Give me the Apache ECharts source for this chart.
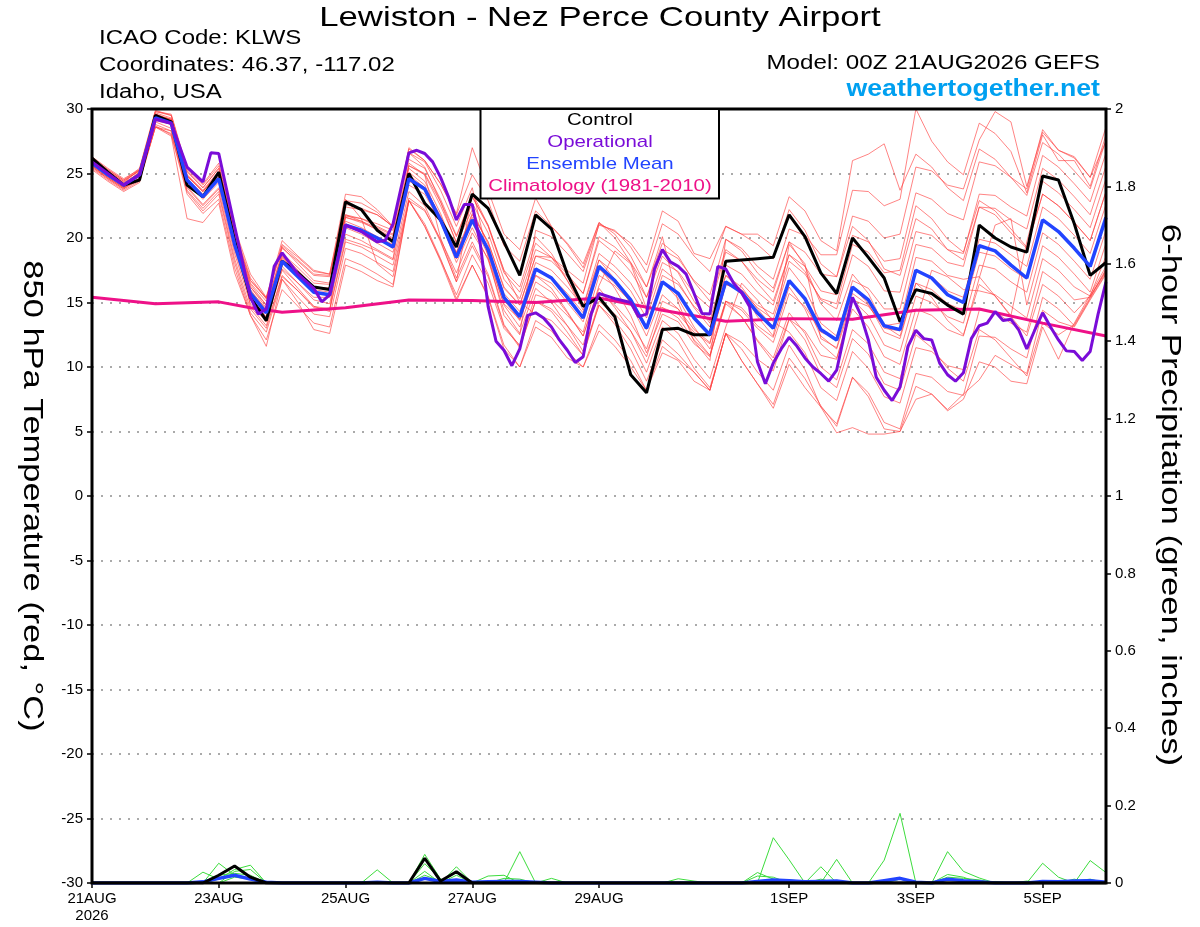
<!DOCTYPE html>
<html>
<head>
<meta charset="utf-8">
<script src="https://cdn.jsdelivr.net/npm/echarts@6.0.0/dist/echarts.min.js"></script>
<style>
html,body{margin:0;padding:0;background:#fff;}
#chart{width:1200px;height:927px;}
</style>
</head>
<body>
<div id="chart"></div>
<script>
// ---------------- DATA ----------------
const STEP_HOURS = 6; // forecast step of the 6-hourly series
const tickHours = [0, 48, 96, 144, 192, 264, 312, 360];
const tickLabels = ['21AUG\n2026', '23AUG', '25AUG', '27AUG', '29AUG', '1SEP', '3SEP', '5SEP'];

const controlTemp = [
  26.2,25.1,24.1,24.5,29.5,29.0,24.1,23.2,25.1,19.8,15.4,13.6,18.2,17.3,16.2,16.0,
  22.8,22.2,20.6,19.7,25.0,22.7,21.4,19.3,23.4,22.3,19.7,17.1,21.8,20.7,17.2,14.7,
  15.4,13.9,9.4,8.0,12.9,13.0,12.5,12.5,18.2,18.3,18.4,18.5,21.8,20.1,17.3,15.7,
  20.0,18.5,16.9,13.5,16.0,15.7,14.8,14.1,21.0,20.0,19.3,18.9,24.8,24.5,21.1,17.1,18.1];

const meanTemp = [
  25.8,24.9,24.1,24.9,29.3,28.9,24.5,23.2,24.6,19.5,15.7,14.2,18.2,17.0,15.8,15.6,
  21.0,20.6,20.0,19.3,24.6,23.8,21.4,18.5,21.4,19.1,15.4,13.9,17.6,16.9,15.4,13.8,
  17.8,16.7,15.2,13.0,16.6,15.7,13.8,12.5,16.6,15.8,14.2,13.0,16.7,15.3,12.9,12.1,
  16.2,15.2,13.2,12.9,17.5,16.9,15.6,15.0,19.4,19.0,17.9,16.9,21.4,20.5,19.2,17.8,21.6];

const operHours = [0,6,12,18,24,30,36,42,45,48,54,60,63,66,69,72,78,84,87,90,96,102,108,111,114,120,123,126,129,132,135,138,141,144,147,150,153,156,159,162,165,168,171,174,177,180,183,186,189,192,198,204,207,210,213,216,219,222,225,228,231,234,237,240,243,246,249,252,255,258,261,264,267,270,273,276,279,282,285,288,291,294,297,300,303,306,309,312,315,318,321,324,327,330,333,336,339,342,345,348,351,354,357,360,363,366,369,372,375,378,381,384];
const operTemp = [25.9,25.0,24.1,24.9,29.2,28.9,25.5,24.35,26.6,26.55,20.9,15.4,14.1,14.5,17.8,18.85,17.2,16.1,15.05,15.6,21.0,20.5,19.7,19.8,21.1,26.6,26.8,26.55,25.9,24.7,23.2,21.4,22.6,22.6,19.6,14.7,12.0,11.3,10.1,11.4,14.0,14.2,13.8,13.1,12.1,11.3,10.35,10.8,14.1,15.7,15.3,15.0,13.9,14.1,17.6,19.1,18.15,17.8,17.2,15.7,14.15,14.1,17.8,17.6,16.5,15.75,14.7,10.4,8.7,10.3,11.4,12.3,11.6,10.7,10.0,9.5,8.9,9.75,12.6,15.4,14.1,12.1,9.2,8.2,7.4,8.45,11.6,12.85,12.2,12.1,10.3,9.4,8.9,9.55,12.2,13.2,13.4,14.3,13.6,13.7,12.85,11.4,12.85,14.2,13.1,12.1,11.25,11.2,10.5,11.2,14.1,16.6];

const climHours = [0,24,48,60,72,96,120,144,168,192,216,240,264,288,312,336,360,384];
const climTemp  = [15.4,14.9,15.05,14.6,14.25,14.6,15.2,15.15,15.0,15.35,14.4,13.55,13.75,13.7,14.4,14.5,13.4,12.4];

const member01 = [26.1,25.2,24.4,25.3,29.8,29.5,25.2,23.9,25.4,20.4,16.7,15.4,19.5,18.5,17.4,17.2, 22.9,22.7,22.0,20.8,27.0,26.0,24.2,21.8,24.9,22.9,19.4,18.2,22.1,20.9,19.5,17.7, 21.2,20.3,18.6,16.2,19.6,18.6,16.6,15.1,19.1,18.2,16.5,15.1,18.7,17.8,15.9,15.6, 20.2,19.7,18.2,18.4,23.5,23.0,21.9,21.4,25.9,25.6,24.7,23.8,28.4,26.8,26.2,24.7,28.6];
const member02 = [25.6,24.7,23.9,24.5,28.7,28.0,23.4,21.9,23.0,17.7,14.0,12.1,16.0,14.7,13.4,13.1, 18.4,17.9,17.2,16.4,22.9,20.9,18.2,15.1,17.9,15.5,11.7,10.0,13.6,12.8,11.2,10.0, 13.3,12.1,10.5,8.2,11.6,10.6,9.6,8.2,12.6,10.5,8.7,7.1,10.7,9.1,7.0,5.4, 9.2,8.0,5.7,5.2,9.5,9.2,8.1,7.8,12.4,12.3,11.4,10.7,15.4,14.5,13.2,15.3,17.3];
const member03 = [25.9,25.0,24.2,25.1,29.5,29.2,24.8,23.6,25.0,20.0,16.2,14.8,18.8,17.7,16.5,16.4, 21.8,21.5,20.9,20.3,25.6,24.9,22.5,19.7,22.7,20.4,16.8,15.3,19.1,18.5,17.2,15.7, 19.8,18.8,17.4,15.4,19.1,18.4,16.7,15.6,19.9,19.2,17.8,16.8,20.7,20.2,18.7,18.7, 23.7,23.6,22.5,23.0,30.0,27.5,25.9,24.9,28.9,28.1,26.7,23.5,28.0,26.0,26.0,24.0,28.0];
const member04 = [25.5,24.6,23.8,24.5,28.8,28.3,23.9,22.5,23.8,21.0,14.7,13.2,17.1,15.9,14.6,14.4, 19.7,19.3,18.6,17.9,23.1,22.2,19.7,16.6,19.4,17.0,13.2,11.5,15.1,14.3,12.7,10.9, 14.8,13.6,12.0,9.6,13.1,12.0,9.9,8.4,12.6,11.4,9.6,8.2,11.7,9.8,6.9,5.6, 9.2,7.7,5.2,5.0,8.5,7.9,6.6,7.5,10.4,10.0,8.9,8.7,13.1,10.6,13.4,15.6,17.8];
const member05 = [26.2,25.3,24.5,25.4,29.9,29.5,25.3,24.1,25.6,20.6,16.9,15.3,19.3,18.0,16.7,16.5, 21.8,21.3,20.6,19.9,25.1,24.1,21.5,18.4,21.2,18.7,14.8,13.1,16.6,15.8,14.2,12.4, 16.3,19.0,18.0,14.5,14.6,13.8,12.1,10.9,15.1,14.4,13.0,11.9,15.7,14.7,12.7,12.2, 16.7,16.1,14.5,14.5,19.5,19.2,18.1,17.8,22.4,22.3,21.4,20.7,25.4,24.5,23.2,21.8,25.6];
const member06 = [25.7,24.8,24.0,24.9,29.3,28.9,24.6,23.4,24.8,19.8,16.0,14.4,18.3,17.1,15.8,15.5, 20.8,20.3,19.6,18.9,24.1,23.4,21.2,18.4,21.4,19.2,15.7,14.3,18.1,17.5,16.2,14.7, 18.8,17.8,16.5,14.4,18.1,17.4,15.7,14.6,18.9,18.2,16.8,15.8,19.7,18.9,17.2,17.0, 21.7,21.3,20.0,20.3,25.5,25.2,24.1,23.8,27.6,29.8,29.0,24.0,28.2,26.8,26.3,24.7,27.5];
const member07 = [26.0,25.1,24.3,25.0,29.3,28.8,24.4,23.0,24.3,19.1,15.2,13.9,18.1,17.1,16.1,16.1, 21.7,21.5,21.1,20.6,26.1,25.4,23.0,20.2,23.2,20.9,17.3,15.8,19.6,18.5,16.7,14.7, 18.3,16.8,14.9,12.4,15.6,14.5,12.4,10.9,14.9,13.9,12.1,10.7,14.2,12.6,10.0,9.0, 12.9,11.8,9.6,9.1,13.5,17.5,17.0,16.0,15.9,15.6,14.7,13.8,18.4,17.5,16.2,15.5,18.6];
const member08 = [25.4,24.5,23.7,24.4,28.6,28.1,23.6,22.1,23.4,18.1,14.2,12.7,16.8,15.4,14.1,13.9, 19.2,18.8,18.1,17.4,22.9,22.1,19.9,17.3,20.4,18.4,14.9,13.7,17.6,17.0,15.7,14.2, 18.3,17.3,15.9,13.8,17.6,16.6,14.6,13.1,17.1,16.2,14.5,13.1,16.7,15.1,12.4,11.4, 15.2,14.0,11.7,11.2,15.5,15.0,13.9,13.4,17.9,17.6,16.6,15.8,20.4,19.5,18.2,16.8,20.6];
const member09 = [25.8,24.9,24.1,25.0,29.5,29.2,24.9,23.7,25.2,20.2,16.5,15.1,19.2,18.2,17.1,17.0, 22.4,22.2,21.8,20.9,26.6,25.9,23.7,20.9,23.9,18.5,14.0,12.5,20.6,20.1,18.8,17.4, 21.0,20.6,19.3,17.3,21.1,20.3,18.6,17.4,20.9,20.3,19.5,18.4,22.2,20.6,18.0,17.0, 20.9,19.8,17.6,17.1,21.5,20.7,19.1,18.3,22.4,21.8,20.4,19.2,23.4,22.5,21.2,19.8,23.6];
const member10 = [26.3,25.4,24.6,25.3,29.6,29.1,24.6,23.2,24.5,19.3,15.4,13.8,17.8,16.5,15.2,14.9, 20.3,19.8,19.1,18.4,25.8,24.9,20.0,16.9,19.7,17.2,13.3,11.6,15.1,14.5,13.2,11.7, 15.8,14.8,13.4,11.4,15.1,14.5,12.9,11.9,16.4,15.9,14.6,13.7,17.7,16.1,13.4,12.4, 16.2,14.9,12.7,12.2,16.5,15.4,13.6,12.5,16.4,15.5,13.9,12.4,16.4,15.5,14.2,15.5,17.4];
const member11 = [25.5,24.6,23.8,24.7,29.1,28.8,24.5,23.2,24.7,19.6,15.9,14.5,18.5,17.4,16.2,16.1, 21.6,21.2,20.7,20.0,25.4,24.4,21.9,18.8,21.6,19.1,15.2,13.6,17.1,16.1,14.3,12.4, 16.1,14.6,12.8,10.3,13.6,12.6,10.6,9.1,13.1,16.5,15.2,13.5,12.7,11.1,8.4,7.4, 11.2,9.9,7.7,7.2,11.5,11.2,10.1,9.8,14.4,14.3,13.4,12.7,17.4,16.5,15.2,15.4,17.6];
const member12 = [26.0,25.1,24.3,25.3,29.8,29.6,25.4,24.2,25.8,20.8,17.2,15.4,19.8,18.6,17.5,17.2, 23.4,23.2,22.2,20.9,26.9,26.0,24.2,21.9,27.0,23.7,20.3,19.1,23.1,20.9,19.6,18.0, 21.2,20.0,18.1,15.4,18.6,17.3,15.1,13.4,17.1,15.9,13.9,12.4,19.5,18.0,12.2,11.5, 15.7,14.8,13.0,12.8,17.5,17.0,15.9,15.4,19.9,19.6,18.7,17.8,22.4,21.5,20.2,18.8,22.6];
const member13 = [25.7,24.8,24.0,24.5,28.6,27.9,21.5,21.2,22.7,17.3,14.0,11.6,16.8,15.0,12.9,12.6, 17.9,17.4,16.7,16.2,22.9,20.9,18.3,15.6,18.7,16.5,13.0,11.7,15.6,15.2,14.0,12.7, 17.1,16.3,15.1,13.2,17.1,16.4,14.7,13.6,17.9,17.2,15.8,14.8,18.7,17.4,15.2,14.5, 18.7,17.8,15.9,15.8,20.5,20.2,19.1,18.8,23.4,23.3,22.4,21.7,26.4,25.5,24.2,22.8,26.6];
const member14 = [26.1,25.2,24.4,25.2,29.7,29.3,24.9,23.6,25.1,20.0,16.2,14.6,18.6,17.3,16.0,15.8, 21.1,20.6,20.0,19.2,24.4,23.8,21.5,18.8,21.8,19.7,16.1,14.8,18.6,18.5,17.5,16.5, 21.1,20.5,19.6,17.9,22.1,21.3,18.8,18.4,20.9,20.3,20.3,19.4,23.2,22.1,19.8,19.0, 26.0,26.5,27.3,23.7,26.5,25.5,23.9,22.9,26.9,26.1,24.7,23.3,27.4,26.5,25.2,23.8,27.6];
const member15 = [25.6,24.7,23.9,24.6,29.0,28.5,24.0,22.6,23.9,18.8,14.9,13.5,17.6,16.5,15.4,15.4, 20.9,20.6,20.1,19.5,24.9,23.9,21.3,18.1,20.8,18.3,14.4,12.6,16.1,15.0,13.2,11.2, 14.8,13.3,11.4,8.9,12.1,11.0,9.6,8.2,12.6,10.5,8.7,6.8,10.2,8.4,6.9,4.9, 5.3,4.8,4.8,5.0,7.5,7.9,6.7,7.9,9.0,10.9,10.2,9.5,14.4,13.5,13.1,15.2,17.2];
const member16 = [25.9,25.0,24.2,25.1,29.6,29.2,25.1,23.9,25.4,20.4,16.7,15.3,19.4,18.3,17.2,17.1, 22.6,22.3,21.8,20.9,26.6,25.5,22.8,19.6,22.2,19.5,15.5,13.7,17.1,16.5,15.0,13.5, 17.6,16.5,15.0,12.9,16.6,15.3,13.1,11.4,15.1,13.9,12.0,10.4,13.7,12.8,10.9,10.6, 15.2,14.7,13.2,13.4,18.5,18.2,17.1,16.8,17.0,15.5,14.0,19.7,24.4,23.5,22.2,20.8,24.6];
const member17 = [25.3,24.4,23.6,24.3,28.6,28.3,23.7,22.3,23.6,18.4,14.5,13.0,17.0,15.9,14.7,14.5, 19.9,19.5,19.0,18.3,23.6,22.5,19.8,16.6,23.5,21.0,17.5,15.0,14.1,13.6,12.3,10.9, 15.1,14.1,12.8,10.8,14.6,14.1,12.7,11.8,16.4,16.0,14.8,14.1,18.2,17.2,15.3,14.9, 19.5,18.9,17.3,17.5,22.5,21.5,19.9,18.9,22.9,22.1,20.7,19.3,23.4,22.5,21.2,19.8,23.6];
const member18 = [25.8,24.9,24.1,24.9,29.3,28.9,24.5,23.2,24.6,19.5,15.7,14.3,18.4,17.3,16.2,16.1, 21.6,21.3,20.8,20.2,25.6,25.0,22.8,20.1,23.2,21.0,17.5,16.2,20.1,18.8,16.7,14.4, 17.8,16.1,14.0,11.1,14.1,13.5,11.8,10.8,15.1,14.6,13.2,12.3,16.2,14.5,11.8,10.7, 14.5,13.1,10.8,10.2,14.5,14.0,12.9,12.4,16.9,21.0,21.5,14.8,19.4,18.5,17.2,15.8,19.6];
const member19 = [26.2,25.3,24.5,25.2,29.6,29.1,24.6,23.2,24.6,19.4,15.5,13.8,17.5,16.1,14.7,14.3, 23.0,21.5,18.0,17.0,22.9,21.1,18.4,15.3,17.9,15.4,11.4,10.0,13.1,12.3,10.7,10.0, 12.8,11.6,10.0,8.2,11.1,10.5,8.9,8.2,12.6,11.9,10.6,9.7,13.7,12.1,9.4,8.4, 12.2,11.0,8.7,8.2,12.5,11.5,9.9,8.9,12.9,12.1,10.7,9.3,13.4,12.5,13.3,15.4,17.5];
const member20 = [25.6,24.7,23.9,24.8,29.3,29.0,24.8,23.6,25.1,20.1,16.4,14.8,18.8,17.5,16.2,16.0, 21.3,20.8,20.1,19.4,24.6,23.9,21.7,18.9,21.9,19.7,16.2,14.8,18.6,18.2,17.0,15.7, 20.1,19.3,18.1,16.2,20.1,15.0,12.0,10.5,19.9,19.0,17.3,16.1,19.7,17.8,14.9,13.6, 17.2,15.7,13.2,12.4,16.5,16.0,14.9,14.4,18.9,18.6,17.6,16.8,21.4,20.5,19.2,17.8,21.6];

const controlPrecip = [0,0,0,0,0,0,0,0,0.02,0.044,0.015,0,0,0,0,0, 0,0,0,0,0,0.064,0.005,0.029,0,0,0,0,0,0,0,0, 0,0,0,0,0,0,0,0,0,0,0,0,0,0,0,0, 0,0,0,0,0,0,0,0,0,0,0,0,0,0,0,0,0];
const meanPrecip = [0,0,0,0,0,0,0,0.003,0.012,0.02,0.01,0.002,0,0,0,0, 0,0,0.002,0,0,0.012,0.004,0.008,0.002,0.003,0.004,0.004,0.002,0,0,0, 0,0,0,0,0,0,0,0,0,0,0.004,0.008,0.006,0.003,0.004,0.005, 0,0,0.006,0.012,0.002,0,0.01,0.006,0.003,0,0,0,0.004,0.003,0.005,0.006,0.002];
const precipMember1 = [0,0,0,0,0,0,0,0,0.051,0.02,0.01,0,0,0,0,0, 0,0,0,0,0,0.074,0.01,0,0,0,0,0,0,0,0,0, 0,0,0,0,0,0,0,0,0,0,0,0.117,0.06,0,0,0, 0,0,0.059,0.18,0,0,0,0,0,0,0,0,0.051,0.015,0,0,0];
const precipMember2 = [0,0,0,0,0,0,0,0.028,0.01,0.035,0.046,0,0,0,0,0, 0,0,0.034,0,0,0,0,0.042,0,0,0,0,0,0,0,0, 0,0,0,0,0,0,0,0,0,0,0,0,0,0,0.042,0, 0,0,0,0,0,0,0.081,0.03,0.013,0,0,0,0,0,0,0.058,0.027];
const precipMember3 = [0,0,0,0,0,0,0,0,0,0.03,0.035,0,0,0,0,0, 0,0,0,0,0,0.05,0.01,0,0,0,0,0.081,0,0,0,0, 0,0,0,0,0,0,0,0,0,0,0.027,0.01,0,0,0,0.061, 0,0,0,0,0,0,0.022,0.015,0,0,0,0,0,0,0,0,0];
const precipMember4 = [0,0,0,0,0,0,0,0,0.02,0.025,0.02,0,0,0,0,0, 0,0,0,0,0,0.03,0,0.02,0,0.018,0.02,0,0,0.012,0,0, 0,0,0,0,0,0.011,0.005,0,0,0,0.018,0.015,0,0,0.01,0, 0,0,0,0,0,0,0.015,0.012,0.008,0,0,0,0,0,0.01,0,0];
const precipMember5 = [0,0,0,0,0,0,0,0,0,0.015,0.01,0,0,0,0,0, 0,0,0,0,0,0.02,0.005,0,0,0,0.012,0.01,0,0,0,0, 0,0,0,0,0,0,0,0,0,0,0,0,0,0,0,0, 0,0,0,0.01,0,0,0,0,0,0.004,0,0.005,0,0,0.005,0.01,0];
const precipMember6 = [0,0,0,0,0,0,0,0,0.01,0.018,0.012,0,0,0,0,0, 0,0,0,0,0,0,0,0.03,0,0,0,0,0,0,0,0, 0,0,0,0,0,0,0,0,0,0,0,0,0.008,0.004,0,0, 0,0,0,0,0,0,0.01,0.006,0,0,0,0,0.004,0.006,0,0,0];

// ---------------- BUILD ----------------
const FONT = '"Liberation Sans", Arial, Helvetica, sans-serif';
const toPairs = arr => arr.map((v, i) => [i * STEP_HOURS, v]);
const zipPairs = (xs, ys) => xs.map((x, i) => [x, ys[i]]);

const tempMembers = [member01, member02, member03, member04, member05, member06, member07, member08, member09, member10,
  member11, member12, member13, member14, member15, member16, member17, member18, member19, member20];
const precipMembers = [precipMember1, precipMember2, precipMember3, precipMember4, precipMember5, precipMember6];

const series = [];
tempMembers.forEach((m, k) => series.push({
  name: 'member' + (k + 1), type: 'line', yAxisIndex: 0, data: toPairs(m),
  symbol: 'none', silent: true, z: 2,
  lineStyle: { color: '#ff3d3d', width: 0.8, opacity: 0.8 }
}));
precipMembers.forEach((m, k) => series.push({
  name: 'precipMember' + (k + 1), type: 'line', yAxisIndex: 1, data: toPairs(m),
  symbol: 'none', silent: true, z: 2,
  lineStyle: { color: '#3cdc3c', width: 1 }
}));
series.push({ name: 'Climatology', type: 'line', yAxisIndex: 0, data: zipPairs(climHours, climTemp),
  symbol: 'none', z: 4, lineStyle: { color: '#ee1188', width: 3 } });
series.push({ name: 'meanPrecip', type: 'line', yAxisIndex: 1, data: toPairs(meanPrecip),
  symbol: 'none', z: 5, lineStyle: { color: '#2244ff', width: 3.5 } });
series.push({ name: 'controlPrecip', type: 'line', yAxisIndex: 1, data: toPairs(controlPrecip),
  symbol: 'none', z: 6, lineStyle: { color: '#000000', width: 3 } });
series.push({ name: 'Control', type: 'line', yAxisIndex: 0, data: toPairs(controlTemp),
  symbol: 'none', z: 6, lineStyle: { color: '#000000', width: 3 } });
series.push({ name: 'Ensemble Mean', type: 'line', yAxisIndex: 0, data: toPairs(meanTemp),
  symbol: 'none', z: 7, lineStyle: { color: '#2244ff', width: 3.5 } });
series.push({ name: 'Operational', type: 'line', yAxisIndex: 0, data: zipPairs(operHours, operTemp),
  symbol: 'none', z: 8, lineStyle: { color: '#7a0cd8', width: 3 } });

const GL = 92, GT = 109, GW = 1014, GH = 774;

const txt = (text, x, y, size, opts) => Object.assign({
  type: 'text', x: x, y: y, z: 100,
  style: Object.assign({ text: text, fontSize: size, fontFamily: FONT, fill: '#000',
    textAlign: 'left', textVerticalAlign: 'middle', verticalAlign: 'middle' }, (opts && opts.style) || {})
}, (opts && opts.el) || {});

const graphic = [
  { type: 'rect', z: 90, silent: true, shape: { x: GL, y: GT, width: GW, height: GH },
    style: { fill: 'none', stroke: '#000', lineWidth: 3 } },
  { type: 'rect', z: 95, shape: { x: 480.5, y: GT, width: 238.5, height: 89.5 },
    style: { fill: '#fff', stroke: '#000', lineWidth: 2 } },
  txt('Control', 600, 120.7, 17, { style: { textAlign: 'center' }, el: { scaleX: 1.2 } }),
  txt('Operational', 600, 142.2, 17, { style: { textAlign: 'center', fill: '#7a0cd8' }, el: { scaleX: 1.2 } }),
  txt('Ensemble Mean', 600, 164, 17, { style: { textAlign: 'center', fill: '#2244ff' }, el: { scaleX: 1.2 } }),
  txt('Climatology (1981-2010)', 600, 186, 17, { style: { textAlign: 'center', fill: '#ee1188' }, el: { scaleX: 1.2 } }),
  txt('Lewiston - Nez Perce County Airport', 600, 18.5, 28, { style: { textAlign: 'center' }, el: { scaleX: 1.24 } }),
  txt('ICAO Code: KLWS', 99, 38.7, 20, { el: { scaleX: 1.2 } }),
  txt('Coordinates: 46.37, -117.02', 99, 65.7, 20, { el: { scaleX: 1.2 } }),
  txt('Idaho, USA', 99, 92.3, 20, { el: { scaleX: 1.2 } }),
  txt('Model: 00Z 21AUG2026 GEFS', 1100, 63.8, 20, { style: { textAlign: 'right' }, el: { scaleX: 1.21 } }),
  txt('weathertogether.net', 1100, 89.3, 23, { style: { textAlign: 'right', fill: '#00a0f0', fontWeight: 'bold' }, el: { scaleX: 1.16 } }),
  txt('850 hPa Temperature (red, \u00B0C)', 31.5, 496, 28, { style: { textAlign: 'center' }, el: { rotation: -Math.PI / 2, scaleX: 1.23 } }),
  txt('6-hour Precipitation (green, inches)', 1170, 495, 28, { style: { textAlign: 'center' }, el: { rotation: -Math.PI / 2, scaleX: 1.24 } })
];

const chart = echarts.init(document.getElementById('chart'), null, { renderer: 'canvas' });
chart.setOption({
  animation: false,
  backgroundColor: '#ffffff',
  grid: { left: GL, top: GT, width: GW, height: GH, containLabel: false, show: false },
  xAxis: {
    type: 'value', min: 0, max: 384, interval: 24, position: 'bottom',
    axisLine: { show: false, onZero: false }, splitLine: { show: false },
    axisTick: { show: true, customValues: tickHours, length: 5, lineStyle: { color: '#000', width: 1.5 } },
    axisLabel: {
      customValues: tickHours, fontSize: 15, fontFamily: FONT, color: '#000', margin: 7, lineHeight: 17,
      formatter: v => { const k = tickHours.indexOf(v); return k >= 0 ? tickLabels[k] : ''; }
    }
  },
  yAxis: [
    {
      type: 'value', position: 'left', min: -30, max: 30, interval: 5,
      axisLine: { show: false, onZero: false },
      axisTick: { show: true, length: 5, lineStyle: { color: '#000', width: 1.5 } },
      axisLabel: { fontSize: 15, fontFamily: FONT, color: '#000', margin: 9 },
      splitLine: { show: true, lineStyle: { color: '#aaaaaa', width: 2, type: [2, 7] } }
    },
    {
      type: 'value', position: 'right', min: 0, max: 2, interval: 0.2,
      axisLine: { show: false, onZero: false },
      axisTick: { show: true, length: 5, lineStyle: { color: '#000', width: 1.5 } },
      axisLabel: { fontSize: 15, fontFamily: FONT, color: '#000', margin: 9 },
      splitLine: { show: false }
    }
  ],
  graphic: graphic,
  series: series
});
</script>
</body>
</html>
